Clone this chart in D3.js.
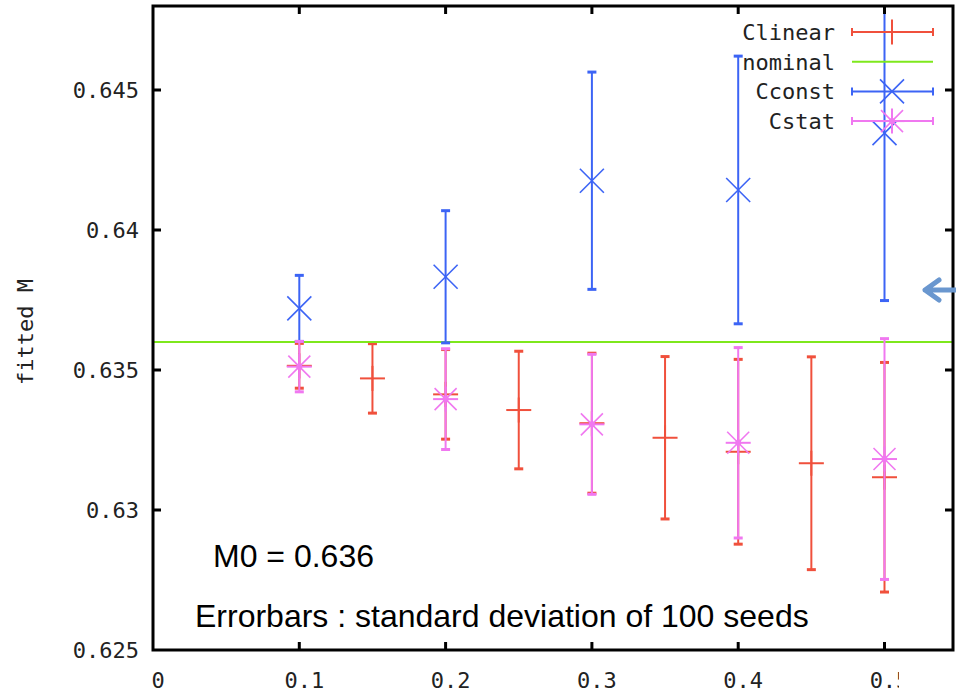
<!DOCTYPE html>
<html>
<head>
<meta charset="utf-8">
<script src="https://cdn.jsdelivr.net/npm/d3@7"></script>
<style>
  body { margin: 0; background: #fff; }
  svg { display: block; }
  .tick-label { font-family: "DejaVu Sans Mono", monospace; font-size: 22px; fill: #222; }
  .note { font-family: "Liberation Sans", Arial, sans-serif; font-size: 32px; fill: #000; }
</style>
</head>
<body>
<svg id="chart" width="956" height="692"></svg>
<script>
// data
const clinearX = [0.1, 0.15, 0.2, 0.25, 0.3, 0.35, 0.4, 0.45, 0.5];
const clinearY = [0.63515, 0.6347, 0.63413, 0.63357, 0.6331, 0.63258, 0.63208, 0.63167, 0.63117];
const clinearErr = [0.0008, 0.00124, 0.0016, 0.0021, 0.0025, 0.0029, 0.0033, 0.0038, 0.0041];

const cconstX = [0.1, 0.2, 0.3, 0.4, 0.5];
const cconstY = [0.6372, 0.63833, 0.64176, 0.64143, 0.64346];
const cconstErr = [0.00118, 0.00236, 0.00388, 0.00478, 0.00598];

const cstatX = [0.1, 0.2, 0.3, 0.4, 0.5];
const cstatY = [0.63512, 0.63396, 0.63306, 0.6324, 0.63182];
const cstatErr = [0.0009, 0.0018, 0.0025, 0.0034, 0.0043];

const nominal = 0.636;

const xTicks = [0, 0.1, 0.2, 0.3, 0.4, 0.5];
const yTicks = [0.625, 0.63, 0.635, 0.64, 0.645];
const legendNames = ["Clinear", "nominal", "Cconst", "Cstat"];

const colors = { Clinear: "#f0503c", nominal: "#7ee81c", Cconst: "#3c64f5", Cstat: "#f078f0" };

const plotLeft = 153, plotRight = 953, plotTop = 6, plotBottom = 650;

let x = d3.scaleLinear().domain([0, (plotRight - plotLeft) / 1463]).range([plotLeft, plotRight]);
let y = d3.scaleLinear().domain([0.625, 0.648]).range([plotBottom, plotTop]);

let svg = d3.select('#chart');

svg.append('clipPath').attr('id', 'plot-clip')
  .append('rect')
  .attr('x', plotLeft).attr('y', plotTop)
  .attr('width', plotRight - plotLeft).attr('height', plotBottom - plotTop);

let plot = svg.append('g').attr('clip-path', 'url(#plot-clip)');

function zip(xs, ys, es) {
  return xs.map((v, i) => ({ x: v, y: ys[i], e: es[i] }));
}

// draws the errorbars + point marker for one series
function drawSeries(g, data, color, marker) {
  let s = g.append('g').attr('stroke', color).attr('stroke-width', 2).attr('fill', 'none');
  data.forEach((d) => {
    let cx = x(d.x), lo = y(d.y - d.e), hi = y(d.y + d.e), cy = y(d.y);
    s.append('line').attr('x1', cx).attr('x2', cx).attr('y1', lo).attr('y2', hi);
    s.append('line').attr('x1', cx - 4.5).attr('x2', cx + 4.5).attr('y1', lo).attr('y2', lo).attr('stroke-width', 3);
    s.append('line').attr('x1', cx - 4.5).attr('x2', cx + 4.5).attr('y1', hi).attr('y2', hi).attr('stroke-width', 3);
    drawMarker(s, cx, cy, marker, color);
  });
}

function drawMarker(s, cx, cy, marker, color) {
  let r = 12.5;
  if (marker === 'plus' || marker === 'star') {
    s.append('line').attr('x1', cx - r).attr('x2', cx + r).attr('y1', cy).attr('y2', cy);
    s.append('line').attr('x1', cx).attr('x2', cx).attr('y1', cy - r).attr('y2', cy + r);
  }
  if (marker === 'cross' || marker === 'star') {
    let q = marker === 'star' ? 11 : 12;
    s.append('line').attr('x1', cx - q).attr('x2', cx + q).attr('y1', cy - q).attr('y2', cy + q).attr('stroke-width', 1.6);
    s.append('line').attr('x1', cx - q).attr('x2', cx + q).attr('y1', cy + q).attr('y2', cy - q).attr('stroke-width', 1.6);
  }
  if (marker === 'star') {
    s.append('circle').attr('cx', cx).attr('cy', cy).attr('r', 3).attr('fill', color).attr('stroke', 'none');
  }
}

drawSeries(plot, zip(clinearX, clinearY, clinearErr), colors.Clinear, 'plus');

plot.append('line')
  .attr('x1', plotLeft).attr('x2', plotRight)
  .attr('y1', y(nominal)).attr('y2', y(nominal))
  .attr('stroke', colors.nominal).attr('stroke-width', 2);

drawSeries(plot, zip(cconstX, cconstY, cconstErr), colors.Cconst, 'cross');
drawSeries(plot, zip(cstatX, cstatY, cstatErr), colors.Cstat, 'star');

// legend
let legend = svg.append('g');
let markers = { Clinear: 'plus', Cconst: 'cross', Cstat: 'star' };
legendNames.forEach((name, i) => {
  let ly = 32 + i * 29.7;
  legend.append('text').attr('class', 'tick-label')
    .attr('x', 835).attr('y', ly).attr('dy', '0.36em')
    .attr('text-anchor', 'end').text(name);
  let g = legend.append('g').attr('stroke', colors[name]).attr('stroke-width', 2).attr('fill', 'none');
  g.append('line').attr('x1', 852).attr('x2', 933).attr('y1', ly).attr('y2', ly);
  if (name !== 'nominal') {
    g.append('line').attr('x1', 852).attr('x2', 852).attr('y1', ly - 4).attr('y2', ly + 4);
    g.append('line').attr('x1', 933).attr('x2', 933).attr('y1', ly - 4).attr('y2', ly + 4);
    drawMarker(g, 892, ly, markers[name], colors[name]);
  }
});

// frame and ticks
let frame = svg.append('g').attr('stroke', '#000').attr('stroke-width', 3);
frame.append('rect')
  .attr('x', plotLeft).attr('y', plotTop)
  .attr('width', plotRight - plotLeft).attr('height', plotBottom - plotTop)
  .attr('fill', 'none');
xTicks.slice(1).forEach((t) => {
  frame.append('line').attr('x1', x(t)).attr('x2', x(t)).attr('y1', plotBottom).attr('y2', plotBottom - 8);
  frame.append('line').attr('x1', x(t)).attr('x2', x(t)).attr('y1', plotTop).attr('y2', plotTop + 8);
});
yTicks.slice(1).forEach((t) => {
  frame.append('line').attr('x1', plotLeft).attr('x2', plotLeft + 8).attr('y1', y(t)).attr('y2', y(t));
  frame.append('line').attr('x1', plotRight).attr('x2', plotRight - 8).attr('y1', y(t)).attr('y2', y(t));
});

yTicks.forEach((t) => {
  svg.append('text').attr('class', 'tick-label')
    .attr('x', 139).attr('y', y(t)).attr('dy', '0.36em')
    .attr('text-anchor', 'end').text(String(+t.toFixed(3)));
});
xTicks.forEach((t) => {
  svg.append('text').attr('class', 'tick-label')
    .attr('x', x(t) + 5).attr('y', 680).attr('dy', '0.36em')
    .attr('text-anchor', 'middle').text(String(t));
});

svg.append('text').attr('class', 'tick-label')
  .attr('transform', 'translate(25,332) rotate(-90)')
  .attr('dy', '0.36em').attr('text-anchor', 'middle')
  .text('fitted M');

// annotations
svg.append('text').attr('class', 'note').attr('x', 213).attr('y', 567).text('M0 = 0.636');
svg.append('text').attr('class', 'note').attr('x', 195).attr('y', 627).text('Errorbars : standard deviation of 100 seeds');

// white patch covering part of the last tick label, and the little arrow
svg.append('rect').attr('x', 899).attr('y', 664).attr('width', 57).attr('height', 28).attr('fill', '#fff');
svg.append('path')
  .attr('d', 'M958,290 L925,290 M939,280 L925,290 L939,300')
  .attr('fill', 'none').attr('stroke', '#6a97cf').attr('stroke-width', 5)
  .attr('stroke-linecap', 'round').attr('stroke-linejoin', 'round');
</script>
</body>
</html>
